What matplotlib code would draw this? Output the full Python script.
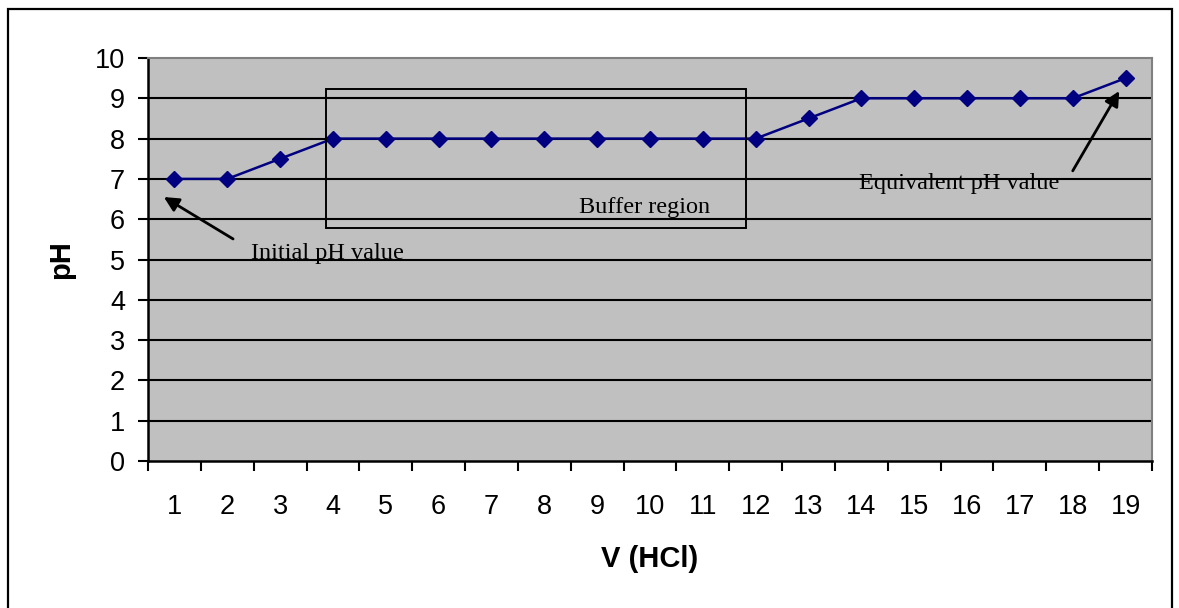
import matplotlib.pyplot as plt
from matplotlib.patches import Rectangle

# titration data
volume = list(range(1, 20))
ph = [7, 7, 7.5, 8, 8, 8, 8, 8, 8, 8, 8, 8, 8.5, 9, 9, 9, 9, 9, 9.5]
y_ticks = list(range(0, 11))

fig = plt.figure(figsize=(11.79, 6.08), dpi=100)
ax = fig.add_axes([148 / 1179, 147 / 608, 1004 / 1179, 403 / 608])
ax.set_facecolor("#c0c0c0")

# horizontal gridlines, Excel style
for y in y_ticks[1:-1]:
    ax.axhline(y, color="black", lw=1.5, zorder=1)

ax.plot(volume, ph, color="#000080", lw=1.8, marker="D", markersize=8.5,
        markerfacecolor="#000080", markeredgecolor="#000080", zorder=3)

ax.set_xlim(0.5, 19.5)
ax.set_ylim(0, 10)

# ticks between categories, labels on categories
ax.set_xticks([v + 0.5 for v in [0] + volume])
ax.set_xticklabels([])
ax.set_xticks(volume, minor=True)
ax.set_xticklabels([str(v) for v in volume], minor=True)
ax.tick_params(axis="x", which="major", direction="out", length=7.5, width=1.5)
ax.tick_params(axis="x", which="minor", length=0, pad=24, labelsize=19.5)
ax.set_yticks(y_ticks)
ax.tick_params(axis="y", direction="out", length=7.5, width=1.5, pad=9, labelsize=19.5)
for lab in ax.get_xticklabels(minor=True) + ax.get_yticklabels():
    lab.set_fontfamily("Liberation Sans")

for side in ["left", "bottom"]:
    ax.spines[side].set_color("black")
    ax.spines[side].set_linewidth(1.8)
for side in ["right", "top"]:
    ax.spines[side].set_color("#808080")
    ax.spines[side].set_linewidth(1.5)

ax.set_xlabel("V (HCl)", fontsize=21, fontweight="bold", family="Liberation Sans")
ax.set_ylabel("pH", fontsize=21, fontweight="bold", family="Liberation Sans")
ax.xaxis.label.set_va("center")
ax.xaxis.set_label_coords(0.5, -0.243)
ax.yaxis.label.set_va("center")
ax.yaxis.set_label_coords(-0.087, 0.5)

# buffer region box
ax.add_patch(Rectangle((3.87, 5.78), 11.82 - 3.87, 9.24 - 5.78, fill=False,
                       edgecolor="black", lw=1.4, zorder=4))
serif = "Liberation Serif"
ax.text(9.9, 6.3, "Buffer region", ha="center", va="center", fontsize=17.5,
        family=serif, zorder=5)

ax.annotate("", xy=(0.8, 6.55), xytext=(2.11, 5.51),
            arrowprops=dict(arrowstyle="-|>", color="black", lw=2,
                            mutation_scale=22, shrinkA=0, shrinkB=0), zorder=5)
ax.text(2.45, 5.15, "Initial pH value", ha="left", va="center", fontsize=17.5,
        family=serif, zorder=5)

ax.annotate("", xy=(18.88, 9.18), xytext=(18.0, 7.2),
            arrowprops=dict(arrowstyle="-|>", color="black", lw=2,
                            mutation_scale=22, shrinkA=0, shrinkB=0), zorder=5)
ax.text(13.96, 6.88, "Equivalent pH value", ha="left", va="center", fontsize=17.5,
        family=serif, zorder=5)

# outer chart border
fig.patches.append(Rectangle((8 / 1179, -0.02), 1164 / 1179, 0.985 + 0.02,
                             transform=fig.transFigure, fill=False,
                             edgecolor="black", lw=1.6))

fig.savefig("out.png", dpi=100)
